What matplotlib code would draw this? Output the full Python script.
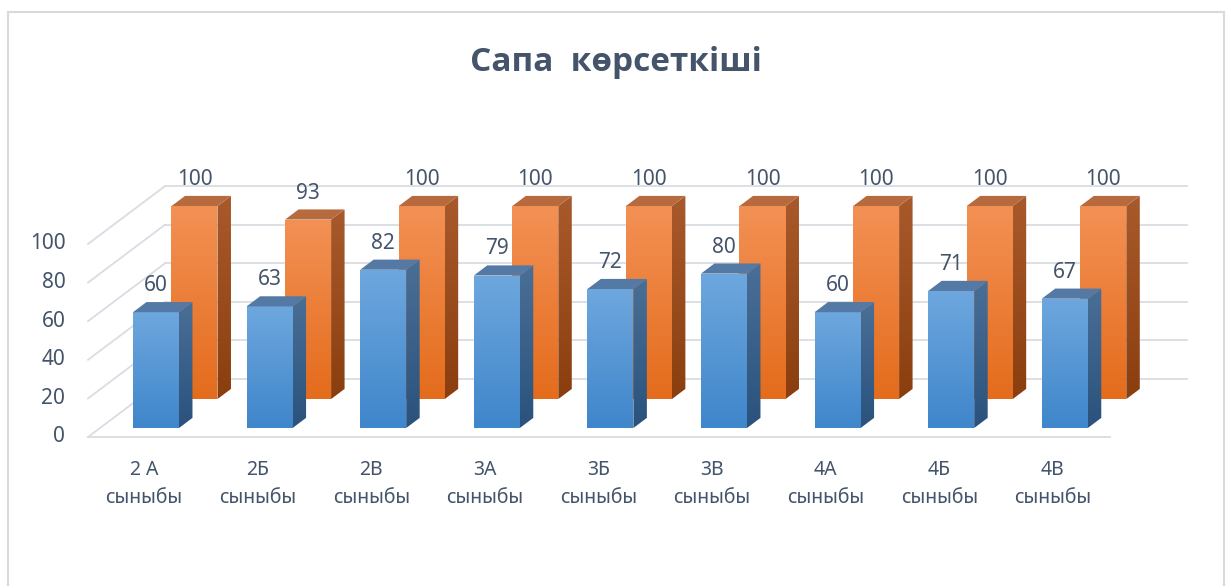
import numpy as np
import matplotlib.pyplot as plt
from matplotlib.patches import Polygon, Rectangle
from matplotlib.colors import LinearSegmentedColormap

plt.rcParams['font.family'] = ['Noto Sans', 'DejaVu Sans']

# Деректер
сыныптар = ['2 А\nсыныбы', '2Б\nсыныбы', '2В\nсыныбы', '3А\nсыныбы', '3Б\nсыныбы',
            '3В\nсыныбы', '4А\nсыныбы', '4Б\nсыныбы', '4В\nсыныбы']
алдыңғы = [60, 63, 82, 79, 72, 80, 60, 71, 67]
артқы = [100, 93, 100, 100, 100, 100, 100, 100, 100]
y_белгілер = [0, 20, 40, 60, 80, 100]

мәтін_түсі = '#44546A'
тор_түсі = '#D9DDE3'

# жалған 3D проекция (тереңдік z: 0 - алды, 1 - арты)
DX, DY = 0.678, 30.0


def proj(x, y, z):
    return x + z * DX, y + z * DY


def grad_fill(ax, verts, c_top, c_bot, zorder):
    poly = Polygon(verts, closed=True, facecolor='none', edgecolor='none', zorder=zorder)
    ax.add_patch(poly)
    xs, ys = zip(*verts)
    cmap = LinearSegmentedColormap.from_list('g', [c_bot, c_top])
    im = ax.imshow(np.linspace(0, 1, 128).reshape(-1, 1), cmap=cmap,
                   extent=(min(xs), max(xs), min(ys), max(ys)), origin='lower',
                   aspect='auto', zorder=zorder, interpolation='bilinear')
    im.set_clip_path(poly)


def bagan(ax, xc, v, z0, z1, w, түстер, zorder):
    front_top, front_bot, side_top, side_bot, top_c = түстер
    xl, xr = xc - w / 2, xc + w / 2
    front = [proj(xl, 0, z0), proj(xr, 0, z0), proj(xr, v, z0), proj(xl, v, z0)]
    side = [proj(xr, 0, z0), proj(xr, 0, z1), proj(xr, v, z1), proj(xr, v, z0)]
    top = [proj(xl, v, z0), proj(xr, v, z0), proj(xr, v, z1), proj(xl, v, z1)]
    grad_fill(ax, side, side_top, side_bot, zorder)
    grad_fill(ax, front, front_top, front_bot, zorder + 0.1)
    ax.add_patch(Polygon(top, closed=True, facecolor=top_c, edgecolor='none', zorder=zorder + 0.2))


fig = plt.figure(figsize=(12.32, 5.86), dpi=100)
ax = fig.add_axes([0, 0, 1, 1])

# тор сызықтары
x0, x1 = -0.493, 8.504
for v in y_белгілер:
    ax.plot(*zip(proj(x0, v, 0), proj(x0, v, 1)), color=тор_түсі, lw=1.3, zorder=1)
    ax.plot(*zip(proj(x0, v, 1), proj(x1, v, 1)), color=тор_түсі, lw=1.3, zorder=1)
    ax.text(x0 - 0.2, v, str(v), ha='right', va='center', fontsize=15, color=мәтін_түсі)
ax.plot(*zip(proj(x0, 0, 0), proj(x1, 0, 0)), color=тор_түсі, lw=1.3, zorder=1)

w = 0.405
қызғылт = ('#F39155', '#E46C1C', '#A95A2C', '#8A3E0E', '#B86A3F')
көк = ('#6EA7DE', '#3F86CB', '#4A6F97', '#2A527C', '#5479A4')

for i, v in enumerate(артқы):
    z0, z1 = 0.655, 0.83
    bagan(ax, i, v, z0, z1, w, қызғылт, 2 + i * 0.01)
    xt, yt = proj(i, v, z0)
    ax.text(xt, v + z1 * DY + 8.5, str(v), ha='center', va='center',
            fontsize=15, color=мәтін_түсі, zorder=5)

for i, v in enumerate(алдыңғы):
    z0, z1 = 0.155, 0.33
    bagan(ax, i, v, z0, z1, w, көк, 3 + i * 0.01)
    xt, yt = proj(i, v, z0)
    ax.text(xt, v + z1 * DY + 8.5, str(v), ha='center', va='center',
            fontsize=15, color=мәтін_түсі, zorder=5)

for i, s in enumerate(сыныптар):
    ax.text(i, -24.4, s, ha='center', va='center', fontsize=14,
            color=мәтін_түсі, linespacing=1.5)

fig.text(0.5, 0.894, 'Сапа  көрсеткіші', ha='center', va='center',
         fontsize=24, fontweight='bold', color=мәтін_түсі,
         family=['Open Sans', 'DejaVu Sans'])

fig.patches.append(Rectangle((8 / 1232, -0.01), (1224 - 8) / 1232, 1.01 - 12 / 586,
                             transform=fig.transFigure, fill=False,
                             edgecolor='#D9D9D9', lw=1.5))

ax.set_xlim(-1.268, 9.577)
ax.set_ylim(-77.2, 226.4)
ax.axis('off')

plt.savefig('out.png', dpi=100)
